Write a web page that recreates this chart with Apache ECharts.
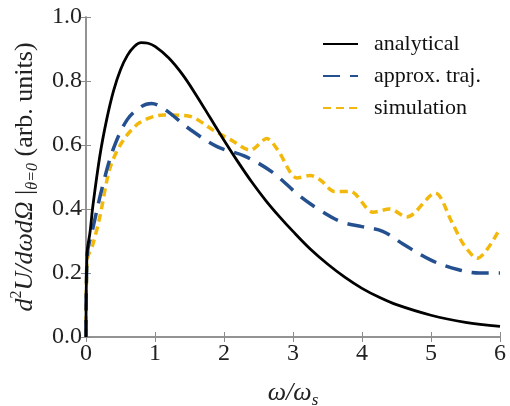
<!DOCTYPE html>
<html>
<head>
<meta charset="utf-8">
<script src="https://cdn.jsdelivr.net/npm/echarts@6/dist/echarts.min.js"></script>
<style>html,body{margin:0;padding:0;background:#fff;}#c{width:510px;height:406px;}</style>
</head>
<body>
<div id="c"></div>
<script>
// ---- data ----
var seriesNames = ['analytical', 'approx. traj.', 'simulation'];
var xTicks = [0, 1, 2, 3, 4, 5, 6];
var yTicks = [0.0, 0.2, 0.4, 0.6, 0.8, 1.0];

var xAnalytical = [0, 0.015, 0.06, 0.1, 0.2, 0.3, 0.4, 0.5, 0.6, 0.7, 0.8, 0.9, 1.0, 1.2, 1.4, 1.6, 1.8, 2.0, 2.2, 2.4, 2.6, 2.8, 3.0, 3.25, 3.5, 3.75, 4.0, 4.25, 4.5, 5.0, 5.5, 6.0];
var yAnalytical = [0, 0.26, 0.33, 0.41, 0.565, 0.68, 0.77, 0.835, 0.88, 0.908, 0.92, 0.918, 0.908, 0.872, 0.82, 0.755, 0.685, 0.615, 0.548, 0.485, 0.428, 0.377, 0.33, 0.275, 0.228, 0.187, 0.152, 0.124, 0.101, 0.068, 0.046, 0.033];

var xApprox = [0, 0.015, 0.1, 0.25, 0.4, 0.6, 0.8, 0.95, 1.15, 1.5, 1.9, 2.3, 2.7, 3.1, 3.4, 3.7, 4.0, 4.3, 4.6, 5.0, 5.4, 5.7, 6.0];
var yApprox = [0, 0.25, 0.34, 0.48, 0.59, 0.68, 0.72, 0.73, 0.71, 0.65, 0.595, 0.565, 0.515, 0.44, 0.395, 0.36, 0.345, 0.33, 0.29, 0.24, 0.21, 0.2, 0.2];

var xSim = [0, 0.015, 0.1, 0.2, 0.35, 0.54, 0.78, 1.12, 1.5, 1.84, 2.1, 2.38, 2.62, 2.78, 3.06, 3.25, 3.4, 3.6, 3.83, 4.16, 4.4, 4.65, 5.06, 5.3, 5.47, 5.67, 6.0];
var ySim = [0, 0.24, 0.29, 0.375, 0.53, 0.615, 0.67, 0.694, 0.69, 0.647, 0.616, 0.584, 0.62, 0.584, 0.497, 0.505, 0.49, 0.455, 0.455, 0.39, 0.4, 0.375, 0.45, 0.36, 0.29, 0.246, 0.34];

function zip(xs, ys) { return xs.map(function (x, i) { return [x, ys[i]]; }); }

var serif = 'Liberation Serif';
var axisGray = '#8c8c8c';

var chart = echarts.init(document.getElementById('c'), null, { renderer: 'canvas' });

function baseAxis(extra) {
  var a = {
    type: 'value',
    axisLine: { show: true, lineStyle: { color: axisGray, width: 1.5 } },
    axisTick: { show: true, inside: true, length: 5, lineStyle: { color: axisGray, width: 1 } },
    splitLine: { show: false }
  };
  for (var k in extra) a[k] = extra[k];
  return a;
}

var option = {
  animation: false,
  backgroundColor: '#fff',
  grid: { left: 86, right: 10, top: 17, bottom: 69, containLabel: false, outerBoundsMode: 'none' },
  legend: {
    orient: 'vertical',
    left: 317,
    top: 28,
    itemWidth: 35,
    itemHeight: 14,
    itemGap: 10,
    data: seriesNames,
    itemStyle: { opacity: 0 },
    textStyle: { fontFamily: serif, fontSize: 22, color: '#111', lineHeight: 22, padding: [0, 0, 0, 11] }
  },
  xAxis: [
    baseAxis({
      min: xTicks[0], max: xTicks[xTicks.length - 1], interval: 1,
      name: '{i|ω/ω}{sub|s}',
      nameLocation: 'middle', nameGap: 40,
      nameTextStyle: {
        rich: {
          i: { fontFamily: serif, fontStyle: 'italic', fontSize: 26, color: '#222', lineHeight: 32, verticalAlign: 'middle' },
          sub: { fontFamily: serif, fontStyle: 'italic', fontSize: 17, color: '#222', lineHeight: 17, verticalAlign: 'bottom' }
        }
      },
      axisLabel: { fontFamily: serif, fontSize: 24, color: '#222', margin: 5 }
    }),
    baseAxis({ position: 'top', min: 0, max: 6, interval: 1, axisLabel: { show: false } })
  ],
  yAxis: [
    baseAxis({
      min: yTicks[0], max: yTicks[yTicks.length - 1], interval: 0.2,
      name: '{i|d}{sup|2}{i|U/dωdΩ}{n| |}{sub|θ=0}{n| (arb. units)}',
      nameLocation: 'middle', nameGap: 43,
      nameTextStyle: {
        rich: {
          i: { fontFamily: serif, fontStyle: 'italic', fontSize: 26, color: '#222', lineHeight: 32, verticalAlign: 'middle' },
          n: { fontFamily: serif, fontSize: 26, color: '#222', lineHeight: 32, verticalAlign: 'middle' },
          sup: { fontFamily: serif, fontSize: 16, color: '#222', lineHeight: 16, verticalAlign: 'top' },
          sub: { fontFamily: serif, fontStyle: 'italic', fontSize: 16, color: '#222', lineHeight: 16, verticalAlign: 'bottom' }
        }
      },
      axisLabel: {
        fontFamily: serif, fontSize: 24, color: '#222', margin: 4,
        formatter: function (v) { return v.toFixed(1); }
      }
    }),
    baseAxis({ position: 'right', min: 0, max: 1, interval: 0.2, axisLabel: { show: false } })
  ],
  series: [
    {
      name: seriesNames[0], type: 'line', showSymbol: false, symbol: 'none',
      smooth: 0.35,
      lineStyle: { color: '#000', width: 2.8, type: 'solid' },
      itemStyle: { color: '#000' },
      data: zip(xAnalytical, yAnalytical), z: 3
    },
    {
      name: seriesNames[1], type: 'line', showSymbol: false, symbol: 'none',
      smooth: 0.35,
      lineStyle: { color: '#24508f', width: 3.5, type: [17, 10] },
      itemStyle: { color: '#24508f' },
      data: zip(xApprox, yApprox), z: 2
    },
    {
      name: seriesNames[2], type: 'line', showSymbol: false, symbol: 'none',
      smooth: 0.3,
      lineStyle: { color: '#f2b90c', width: 3.5, type: [8, 5] },
      itemStyle: { color: '#f2b90c' },
      data: zip(xSim, ySim), z: 1
    }
  ]
};
chart.setOption(option);
</script>
</body>
</html>
